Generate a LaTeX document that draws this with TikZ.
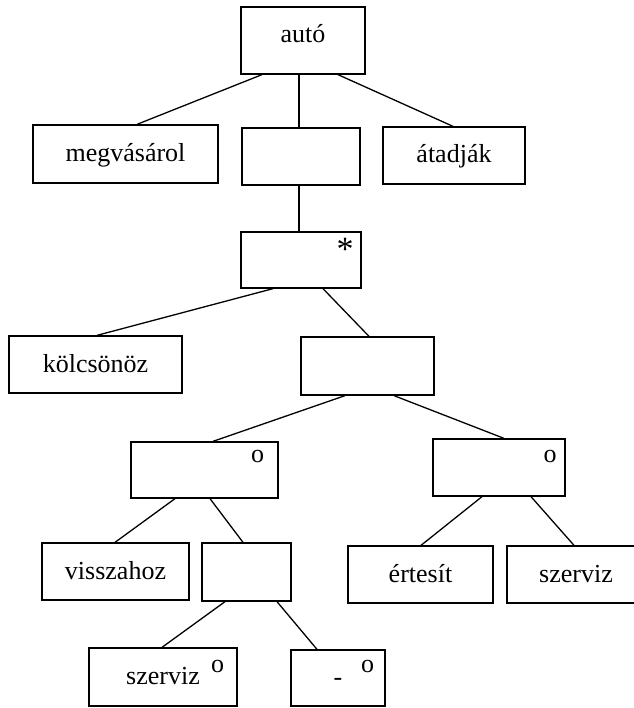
\documentclass[tikz,border=0pt]{standalone}
\usepackage{fontspec}
\setmainfont{Liberation Serif}
\begin{document}
\begin{tikzpicture}[x=1pt,y=-1pt,
  box/.style={draw,line width=1.3pt,inner sep=0pt,anchor=center,
    font=\fontsize{26}{30}\selectfont,text height=20pt,text depth=5pt},
  omark/.style={inner sep=0pt,anchor=north,font=\fontsize{26}{30}\selectfont},
  starmark/.style={inner sep=0pt,anchor=north,font=\fontsize{34}{36}\selectfont},
  conn/.style={line width=1.3pt}]
\useasboundingbox (0,0) rectangle (633,708);
% boxes
\node[box,text depth=15pt,minimum width=124pt,minimum height=67pt] (auto) at (303,40.5) {autó};
\node[box,minimum width=185pt,minimum height=58pt] (meg) at (125.5,154) {megvásárol};
\node[box,minimum width=118pt,minimum height=57pt] (mid1) at (301,156.5) {};
\node[box,minimum width=142pt,minimum height=57pt] (atad) at (454,155.5) {átadják};
\node[box,minimum width=120pt,minimum height=56pt] (star) at (301,260) {};
\node[box,minimum width=173pt,minimum height=57pt] (kolcs) at (95.5,364.5) {kölcsönöz};
\node[box,minimum width=133pt,minimum height=58pt] (mid2) at (367.5,366) {};
\node[box,minimum width=147pt,minimum height=56pt] (oL) at (204.5,470) {};
\node[box,minimum width=132pt,minimum height=57pt] (oR) at (499,467.5) {};
\node[box,minimum width=147pt,minimum height=57pt] (vissza) at (115.5,571.5) {visszahoz};
\node[box,minimum width=89pt,minimum height=58pt] (mid3) at (246.5,572) {};
\node[box,minimum width=145pt,minimum height=57pt] (ertes) at (420.5,574.5) {értesít};
\node[box,minimum width=138pt,minimum height=57pt] (szervR) at (576,574.5) {szerviz};
\node[box,minimum width=148pt,minimum height=58pt] (szervB) at (163,677) {szerviz};
\node[box,minimum width=94pt,minimum height=56pt] (dash) at (338,678) {-\hspace{6pt}};
% marks
\node[starmark] (mstar) at ([xshift=-16.5pt,yshift=-7pt]star.north east) {*};
\node[omark] (moL) at ([xshift=-21pt,yshift=-9pt]oL.north east) {o};
\node[omark] (moR) at ([xshift=-15.5pt,yshift=-12pt]oR.north east) {o};
\node[omark] (mszB) at ([xshift=-20pt,yshift=-13pt]szervB.north east) {o};
\node[omark] (mdash) at ([xshift=-18pt,yshift=-11pt]dash.north east) {o};
% connectors
\draw[conn] ([xshift=-41pt]auto.south) -- ([xshift=11.5pt]meg.north);
\draw[conn] ([xshift=-4pt]auto.south) -- ([xshift=-2pt]mid1.north);
\draw[conn] ([xshift=35pt]auto.south) -- ([xshift=-1pt]atad.north);
\draw[conn] ([xshift=-2pt]mid1.south) -- ([xshift=-2pt]star.north);
\draw[conn] ([xshift=-28pt]star.south) -- ([xshift=1.5pt]kolcs.north);
\draw[conn] ([xshift=22pt]star.south) -- ([xshift=1.5pt]mid2.north);
\draw[conn] ([xshift=-22.5pt]mid2.south) -- ([xshift=8.5pt]oL.north);
\draw[conn] ([xshift=26.5pt]mid2.south) -- ([xshift=5pt]oR.north);
\draw[conn] ([xshift=-29.5pt]oL.south) -- ([xshift=-0.5pt]vissza.north);
\draw[conn] ([xshift=5.5pt]oL.south) -- ([xshift=-3.5pt]mid3.north);
\draw[conn] ([xshift=-17pt]oR.south) -- ([xshift=0.5pt]ertes.north);
\draw[conn] ([xshift=32pt]oR.south) -- ([xshift=-2pt]szervR.north);
\draw[conn] ([xshift=-21.5pt]mid3.south) -- ([xshift=-1pt]szervB.north);
\draw[conn] ([xshift=30.5pt]mid3.south) -- ([xshift=-21pt]dash.north);
\end{tikzpicture}
\end{document}
